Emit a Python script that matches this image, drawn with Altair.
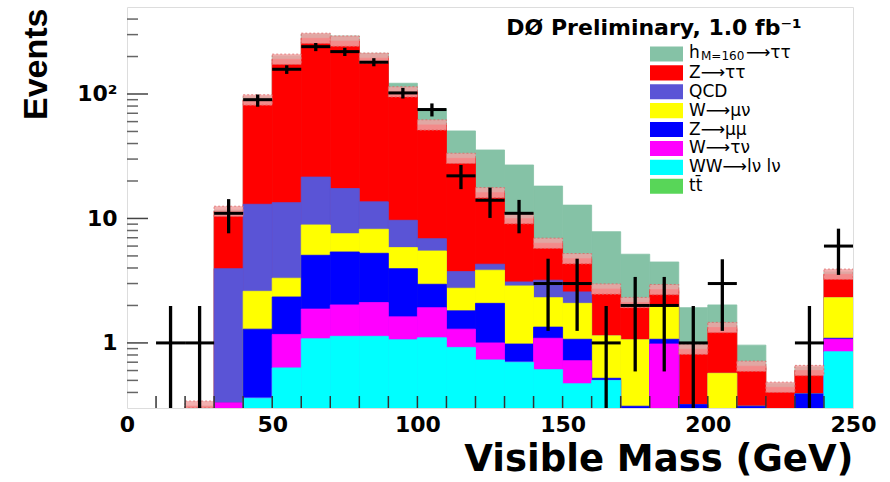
import altair as alt
import numpy as np
import pandas as pd

# ---------------- data ----------------
YMIN, YMAX = 0.3, 500
bin_lo = list(range(0, 250, 10))
BIN_W = 10

# top edge of each coloured layer of the stack (cumulative), per 10 GeV bin
top_tt     = [0]*25
top_ww     = [0, 0, 0, 0, 0.36, 0.63, 1.08, 1.13, 1.13, 1.06, 1.10, 0.92, 0.73, 0.70, 0.61, 0.47, 0.50, 0, 0, 0, 0, 0, 0, 0, 0.85]
top_wtaunu = [0, 0, 0, 0.33, 0.36, 1.17, 1.87, 2.02, 2.11, 1.62, 1.92, 1.29, 1.00, 0.70, 1.09, 0.72, 0.50, 0, 0.98, 0, 0, 0, 0, 0, 1.07]
top_zmumu  = [0, 0, 0, 0.33, 1.29, 2.34, 5.06, 5.38, 5.25, 3.95, 2.96, 1.81, 2.08, 0.98, 1.34, 1.07, 0.52, 0.31, 1.07, 0.32, 0, 0.31, 0, 0.39, 1.09]
top_wmunu  = [0, 0, 0, 0.33, 2.6, 3.31, 8.87, 7.55, 8.19, 5.83, 5.48, 2.75, 3.84, 2.87, 2.31, 2.08, 1.14, 1.06, 1.95, 0.32, 0.57, 0.31, 0, 0.39, 2.31]
top_qcd    = [0, 0, 0, 3.95, 13.0, 13.4, 21.5, 17.4, 13.6, 9.67, 6.88, 3.74, 4.29, 3.09, 3.19, 2.57, 1.14, 1.06, 1.98, 0.32, 0.57, 0.31, 0, 0.39, 2.31]
top_ztt    = [0, 0, 0.31, 11.4, 89.5, 190, 280, 266, 194, 104, 56.4, 30.4, 16.1, 9.96, 6.32, 4.75, 2.71, 2.11, 2.68, 0.89, 1.33, 0.65, 0.44, 0.60, 3.56]
top_sig    = [0, 0, 0.31, 11.7, 95, 202, 302, 292, 212, 122, 76, 50.5, 35.5, 26.9, 18.2, 12.8, 7.83, 5.16, 4.47, 1.92, 2.02, 0.96, 0.47, 0.64, 3.72]
BAND_FRAC = 0.10  # relative uncertainty band on the background total

# data points with error bars
data_n  = [None, 1, 1, 11, 90, 158, 240, 219, 180, 102, 75, 22, 14, 11, 3, 3, 1, 2, 2, 1, 3, None, None, 1, 6]
data_lo = [None, 0, 0, 7.6, 79, 145, 221, 202, 167, 92, 66, 17.2, 10.1, 7.6, 1.25, 1.25, 0, 0.59, 0.59, 0, 1.25, None, None, 0, 3.52]
data_hi = [None, 1.98, 1.98, 14.3, 99, 170, 257, 235, 194, 112, 84, 26.9, 17.7, 14.1, 4.75, 4.75, 1.98, 3.39, 3.39, 1.98, 4.7, None, None, 1.98, 8.28]

procs = ["signal", "ztautau", "qcd", "wmunu", "zmumu", "wtaunu", "ww", "ttbar"]
legend_text = ["", "Z\u27f6\u03c4\u03c4", "QCD", "W\u27f6\u03bc\u03bd", "Z\u27f6\u03bc\u03bc",
               "W\u27f6\u03c4\u03bd", "WW\u27f6l\u03bd l\u03bd", "tt\u0304"]
colors = ["#85C2A6", "#FF0000", "#5A54D6", "#FFFF00", "#0000FF", "#FF00FF", "#00FFFF", "#58D658"]
tops = [top_sig, top_ztt, top_qcd, top_wmunu, top_zmumu, top_wtaunu, top_ww, top_tt]

# ---------------- tables ----------------
rows = []
for k, (p, tp) in enumerate(zip(procs, tops)):
    for lo, v in zip(bin_lo, tp):
        if v > YMIN:
            rows.append({"proc": p, "order": k, "x": lo, "x2": lo + BIN_W, "top": v, "bot": YMIN})
hist = pd.DataFrame(rows)

band = pd.DataFrame([{"x": lo, "x2": lo + BIN_W, "hi": v * (1 + BAND_FRAC), "lo": v / (1 + BAND_FRAC)}
                     for lo, v in zip(bin_lo, top_ztt) if v > YMIN])

drows = []
for lo, n, el, eh in zip(bin_lo, data_n, data_lo, data_hi):
    if n is None:
        continue
    drows.append({"x": lo, "x2": lo + BIN_W, "xc": lo + BIN_W / 2, "n": n,
                  "lo": max(el, YMIN), "hi": eh})
pts = pd.DataFrame(drows)

leg = pd.DataFrame({"row": list(range(len(procs))), "proc": procs, "text": legend_text})

ymajor = pd.DataFrame({"v": [1, 10, 100]})
yminor = pd.DataFrame({"v": [0.4, 0.5, 0.6, 0.7, 0.8, 0.9, 2, 3, 4, 5, 6, 7, 8, 9,
                             20, 30, 40, 50, 60, 70, 80, 90, 200, 300, 400]})
xticks = pd.DataFrame({"v": list(range(10, 250, 10))})

W, H = 726, 401
xs = alt.Scale(domain=[0, 250], nice=False, zero=False)
ys = alt.Scale(type="log", domain=[YMIN, YMAX], nice=False, clamp=True)
cs = alt.Scale(domain=procs, range=colors)
ls = alt.Scale(type="band", domain=list(range(len(procs))), range=[37.5, 188.7],
               paddingInner=0.2, paddingOuter=0.1)

xaxis = alt.Axis(values=[0, 50, 100, 150, 200, 250], title="Visible Mass (GeV)", grid=False, ticks=False,
                 tickSize=0, domain=False, labelFont="DejaVu Sans", labelFontWeight="bold", labelFontSize=22,
                 labelColor="black", labelPadding=6, labelFlush=False,
                 titleFont="DejaVu Sans", titleFontWeight="bold", titleFontSize=37, titleColor="black",
                 titleX=W, titleY=62, titleAlign="right", titleBaseline="alphabetic")
yaxis = alt.Axis(values=[1, 10, 100], title="Events", grid=False, ticks=False, tickSize=0, domain=False,
                 labelExpr="datum.value == 100 ? '10\u00b2' : datum.label",
                 labelFont="DejaVu Sans", labelFontWeight="bold", labelFontSize=22, labelColor="black",
                 labelPadding=10,
                 titleFont="Liberation Sans", titleFontWeight="bold", titleFontSize=34, titleColor="black",
                 titleAngle=270, titleX=-91, titleY=1, titleAlign="right", titleBaseline="middle")

bars = alt.Chart(hist).mark_rect(clip=True, strokeWidth=0.8).encode(
    x=alt.X("x:Q", scale=xs, axis=xaxis),
    x2="x2:Q",
    y=alt.Y("top:Q", scale=ys, axis=yaxis),
    y2="bot:Q",
    color=alt.Color("proc:N", scale=cs, legend=None),
    stroke=alt.Stroke("proc:N", scale=cs, legend=None),
    order=alt.Order("order:Q"),
)

hatch = alt.Chart(band).mark_rect(clip=True, fill="#F2A3A3", opacity=0.85, stroke="#E06A6A",
                                  strokeWidth=1, strokeDash=[2, 2]).encode(
    x=alt.X("x:Q", scale=xs), x2="x2:Q", y=alt.Y("hi:Q", scale=ys, axis=None), y2="lo:Q")

hbar = alt.Chart(pts).mark_rule(color="black", strokeWidth=3, clip=True).encode(
    x=alt.X("x:Q", scale=xs), x2="x2:Q", y=alt.Y("n:Q", scale=ys, axis=None))
vbar = alt.Chart(pts).mark_rule(color="black", strokeWidth=3.3, clip=True).encode(
    x=alt.X("xc:Q", scale=xs), y=alt.Y("hi:Q", scale=ys, axis=None), y2="lo:Q")

ytm = alt.Chart(ymajor).mark_rule(color="#444", strokeWidth=1.5).encode(
    y=alt.Y("v:Q", scale=ys, axis=None), x=alt.value(0), x2=alt.value(21))
ytn = alt.Chart(yminor).mark_rule(color="#666", strokeWidth=1.5).encode(
    y=alt.Y("v:Q", scale=ys, axis=None), x=alt.value(0), x2=alt.value(11))
xtk = alt.Chart(xticks).mark_rule(color="#333", strokeWidth=1.5).encode(
    x=alt.X("v:Q", scale=xs), y=alt.value(H), y2=alt.value(H - 12))

# legend (manual, so that the subscript can be drawn)
leg_sw = alt.Chart(leg).mark_rect().encode(
    y=alt.Y("row:O", scale=ls, axis=None),
    x=alt.value(523), x2=alt.value(556),
    color=alt.Color("proc:N", scale=cs, legend=None),
)
leg_tx = alt.Chart(leg).mark_text(font="DejaVu Sans", fontSize=17, color="black", align="left",
                                  baseline="middle").encode(
    y=alt.Y("row:O", scale=ls, axis=None), x=alt.value(562), text="text:N")

def label_piece(txt, x, y, size):
    return alt.Chart(pd.DataFrame({"t": [txt]})).mark_text(
        font="DejaVu Sans", fontSize=size, color="black", align="left", baseline="middle"
    ).encode(text="t:N", x=alt.value(x), y=alt.value(y))

h1 = label_piece("h", 562, 46, 17)
h2 = label_piece("M=160", 574, 48.5, 12)
h3 = label_piece("\u27f6\u03c4\u03c4", 619, 46, 17)

title = alt.Chart(pd.DataFrame({"t": ["D\u00d8 Preliminary, 1.0 fb\u207b\u00b9"]})).mark_text(
    font="DejaVu Sans", fontWeight="bold", fontSize=22, color="black", align="center", baseline="middle"
).encode(text="t:N", x=alt.value(527), y=alt.value(21))

chart = alt.layer(bars, hatch, hbar, vbar, ytm, ytn, xtk, leg_sw, leg_tx, h1, h2, h3, title).resolve_scale(
    y="independent"
).properties(
    width=W, height=H,
    autosize=alt.AutoSizeParams(type="none"),
    padding={"left": 127, "top": 7, "right": 37, "bottom": 74},
).configure_view(stroke="#333", strokeWidth=1.5).configure(background="white")

chart.save("out.html", embed_options={"renderer": "svg", "actions": False})
